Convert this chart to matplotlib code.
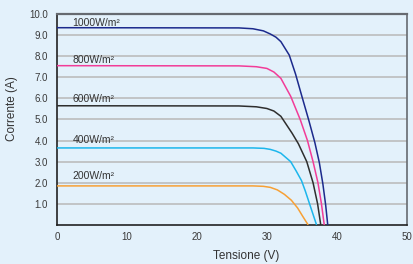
import matplotlib
matplotlib.use("Agg")
import matplotlib.pyplot as plt

plt.rcParams['font.family'] = ['Liberation Sans', 'DejaVu Sans']

# I-V curves (voltage in V, current in A)
labels = ["1000W/m²", "800W/m²", "600W/m²", "400W/m²", "200W/m²"]

v_1000 = [0, 26, 28, 29.5, 30.5, 31.3, 32.0, 33.2, 34.1, 35.0, 36.0, 36.86, 37.5, 38.0, 38.4, 38.7]
i_1000 = [9.35, 9.34, 9.3, 9.2, 9.05, 8.9, 8.69, 8.05, 7.15, 6.1, 4.95, 3.9, 2.95, 1.95, 0.95, 0]

v_800 = [0, 26, 28.5, 30.0, 31.0, 32.0, 33.4, 34.76, 35.8, 36.6, 37.3, 37.8, 38.2]
i_800 = [7.55, 7.54, 7.5, 7.42, 7.25, 6.95, 6.1, 5.0, 4.0, 3.0, 2.0, 1.0, 0]

v_600 = [0, 26, 28.5, 30.0, 31.0, 32.0, 32.7, 33.6, 34.5, 35.7, 36.6, 37.25, 37.7]
i_600 = [5.65, 5.64, 5.6, 5.52, 5.4, 5.15, 4.8, 4.35, 3.85, 3.0, 2.0, 1.0, 0]

v_400 = [0, 28, 29.6, 30.5, 31.3, 32.0, 33.4, 34.2, 34.95, 35.5, 36.05, 36.6, 37.1]
i_400 = [3.65, 3.65, 3.63, 3.58, 3.5, 3.4, 3.0, 2.55, 2.1, 1.6, 1.05, 0.5, 0]

v_200 = [0, 28, 29.5, 30.5, 31.5, 32.5, 33.5, 34.4, 35.1, 35.9]
i_200 = [1.85, 1.85, 1.83, 1.78, 1.66, 1.45, 1.17, 0.8, 0.42, 0]

colors = ["#1c2a8c", "#f23c98", "#2e2e2e", "#1cb6ec", "#f7a035"]

x_ticks = [0, 10, 20, 30, 40, 50]
y_ticks = [1, 2, 3, 4, 5, 6, 7, 8, 9, 10]
y_ticklabels = ["1.0", "2.0", "3.0", "4.0", "5.0", "6.0", "7.0", "8.0", "9.0", "10.0"]

bg = "#e3f1fb"
fig = plt.figure(figsize=(4.13, 2.64), dpi=100, facecolor=bg)
ax = fig.add_axes([0.138, 0.148, 0.847, 0.799], facecolor=bg)

# horizontal grid
for y in y_ticks[:-1]:
    ax.axhline(y, color="#b8b8b8", lw=1.1, zorder=1)

curves = [(v_1000, i_1000), (v_800, i_800), (v_600, i_600), (v_400, i_400), (v_200, i_200)]
label_offset = [0.2, 0.27, 0.31, 0.38, 0.47]
for (v, i), c, lab, off in zip(curves, colors, labels, label_offset):
    ax.plot(v, i, color=c, lw=1.1, zorder=3, solid_capstyle="butt", solid_joinstyle="round")
    ax.text(2.2, i[0] + off, lab, fontsize=7.5, color="#333333",
            va="center", ha="left", zorder=4)

ax.set_xlim(0, 50)
ax.set_ylim(0, 10)
ax.set_xticks(x_ticks)
ax.set_yticks(y_ticks)
ax.set_yticklabels(y_ticklabels)
ax.tick_params(length=0, labelsize=7, colors="#3a3a3a")
ax.tick_params(axis="y", pad=6.5)
ax.tick_params(axis="x", pad=5)

ax.spines["left"].set_color("#222222")
ax.spines["bottom"].set_color("#222222")
ax.spines["top"].set_color("#666a70")
ax.spines["right"].set_color("#666a70")
for s in ax.spines.values():
    s.set_linewidth(1.2)
ax.spines["top"].set_linewidth(1.6)

ax.set_xlabel("Tensione (V)", fontsize=8.5, color="#333333")
ax.xaxis.set_label_coords(0.542, -0.12)
ax.set_ylabel("Corrente (A)", fontsize=8.5, color="#333333")
ax.yaxis.set_label_coords(-0.112, 0.55)

fig.savefig("out.png", dpi=100, facecolor=bg)
